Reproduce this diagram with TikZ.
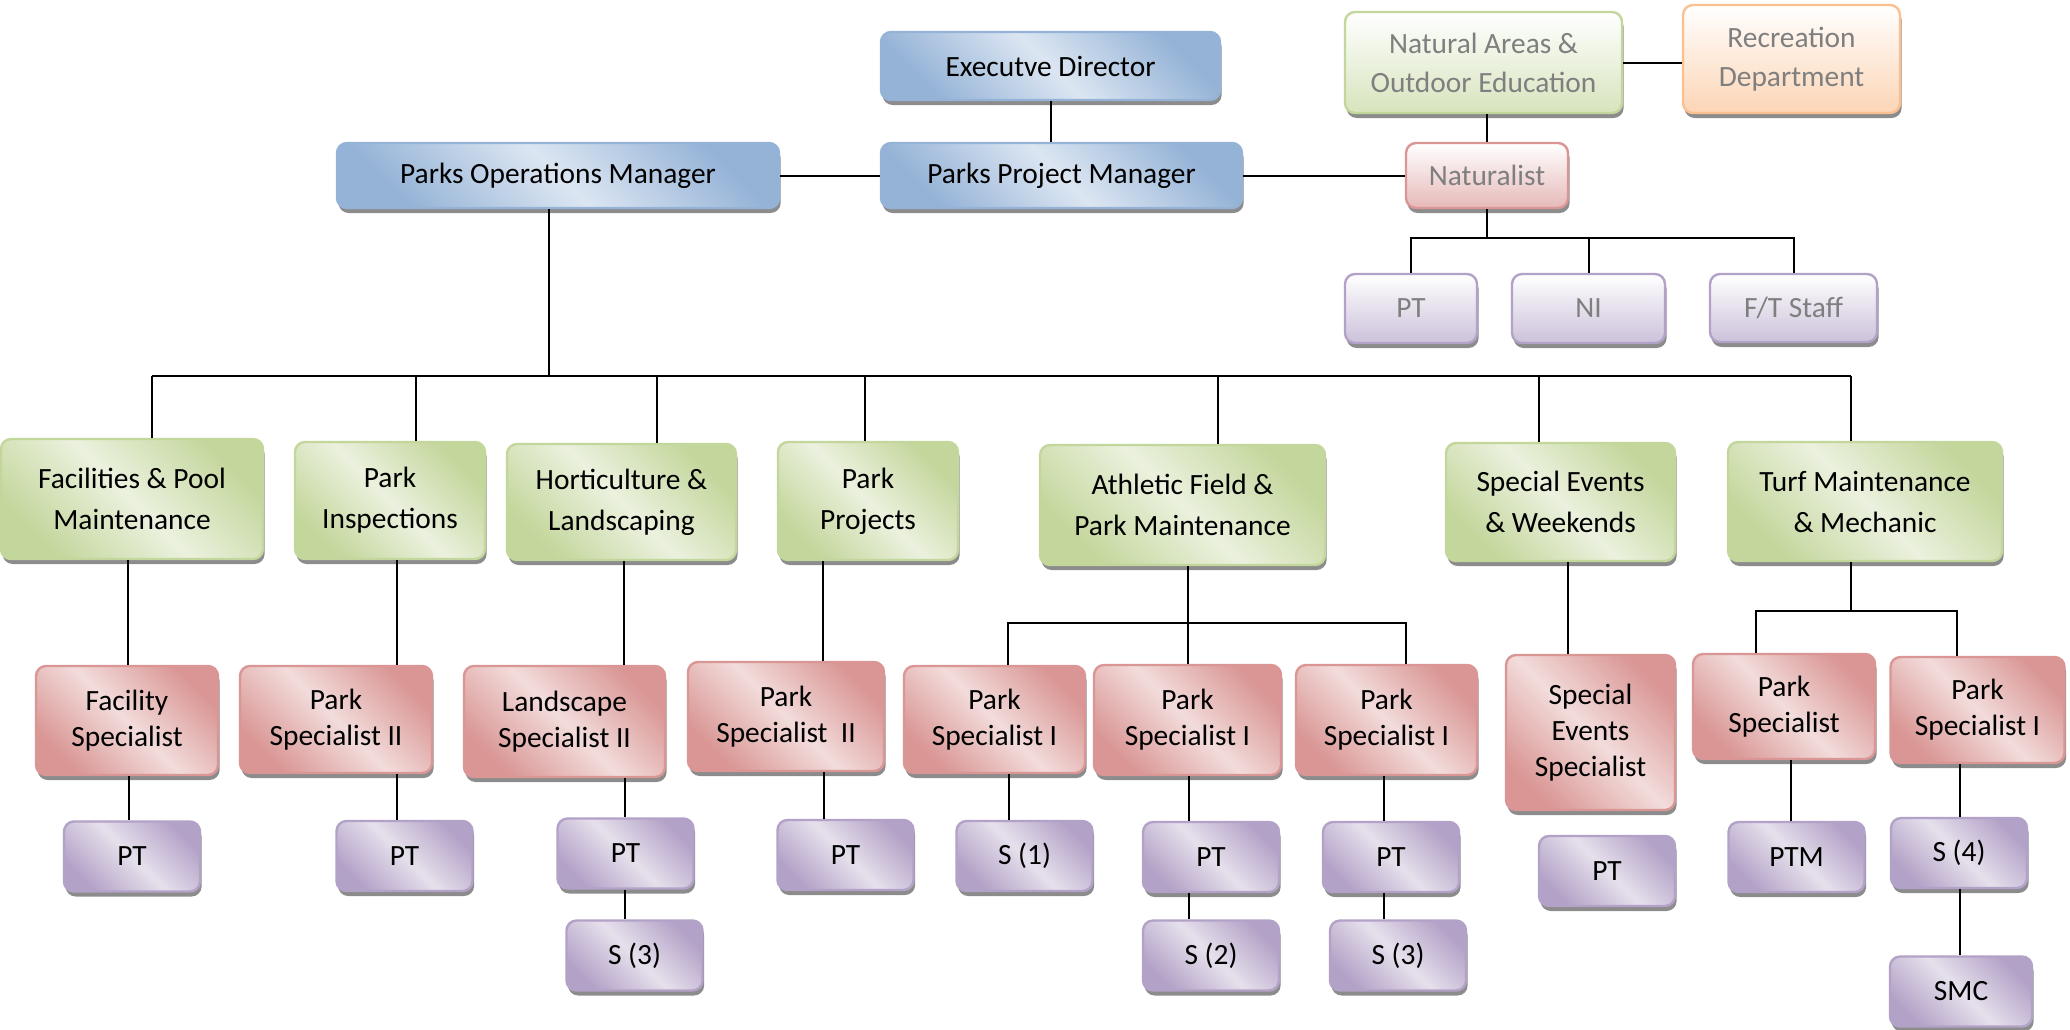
\documentclass[tikz,border=0pt]{standalone}
\usepackage{fontspec}
\setmainfont{Carlito}
\usetikzlibrary{shadows}

\definecolor{mgrdark}{HTML}{95B3D7}
\definecolor{mgrlight}{HTML}{DCE6F2}
\definecolor{unitdark}{HTML}{C3D69B}
\definecolor{unitlight}{HTML}{EBF1DE}
\definecolor{specdark}{HTML}{D99694}
\definecolor{speclight}{HTML}{F2DCDB}
\definecolor{staffdark}{HTML}{B3A2C7}
\definecolor{stafflight}{HTML}{E6E0EC}
\definecolor{recline}{HTML}{FAC090}
\definecolor{recfill}{HTML}{FCD5B5}
\definecolor{natfill}{HTML}{D7E4BD}
\definecolor{nstfill}{HTML}{E6B9B8}
\definecolor{nsffill}{HTML}{CCC1DA}
\definecolor{greytext}{HTML}{7F7F7F}

\begin{document}
\begin{tikzpicture}[x=0.5pt,y=-0.5pt,
  box/.style={rectangle,rounded corners=5pt,draw,line width=1.2pt,align=center,inner sep=1pt,font=\fontsize{14.7}{18}\selectfont,drop shadow={shadow xshift=0.8pt,shadow yshift=-2.5pt,fill=black!45,opacity=1}},
  diag/.style 2 args={box,draw=#1,top color=#1,bottom color=#1,middle color=#2,shading angle=-45},
  mgrbox/.style={diag={mgrdark}{mgrlight}},
  unitbox/.style={diag={unitdark}{unitlight},font=\fontsize{14.7}{20.5}\selectfont},
  specbox/.style={diag={specdark}{speclight}},
  staffbox/.style={diag={staffdark}{stafflight},minimum width=68pt,minimum height=35pt},
  partbox/.style 2 args={box,draw=#1,top color=white,bottom color=#2,text=greytext},
  link/.style={line width=1pt}]
\useasboundingbox (0,0) rectangle (2070,1029);

% top management
\node[mgrbox,minimum width=169.5pt,minimum height=34pt] (ED) at (1050.5,66) {Executve Director};
\node[mgrbox,minimum width=221pt,minimum height=32.5pt] (POM) at (558,175.5) {Parks Operations Manager};
\node[mgrbox,minimum width=180.5pt,minimum height=32.5pt] (PPM) at (1061.5,175.5) {Parks Project Manager};

% natural areas partners
\node[partbox={unitdark}{natfill},minimum width=138.5pt,minimum height=50.5pt,font=\fontsize{14.7}{19.5}\selectfont] (NatAreas) at (1483.5,62.5) {Natural Areas \&\\Outdoor Education};
\node[partbox={recline}{recfill},minimum width=108.5pt,minimum height=54pt,font=\fontsize{14.7}{19.5}\selectfont] (Rec) at (1791.5,59) {Recreation\\Department};
\node[partbox={specdark}{nstfill},minimum width=81pt,minimum height=32.5pt] (Naturalist) at (1487,175.5) {Naturalist};
\node[partbox={staffdark}{nsffill},minimum width=66pt,minimum height=34.5pt] (NPT) at (1411,308.5) {PT};
\node[partbox={staffdark}{nsffill},minimum width=76.5pt,minimum height=34.5pt] (NI) at (1588.5,308.5) {NI};
\node[partbox={staffdark}{nsffill},minimum width=83.5pt,minimum height=34pt] (FT) at (1793.5,308) {F/T Staff};

% work units
\node[unitbox,minimum width=131pt,minimum height=60pt] (Fac) at (132,499) {Facilities \& Pool\\Maintenance};
\node[unitbox,minimum width=95pt,minimum height=58.5pt] (Insp) at (390,500.5) {Park\\Inspections};
\node[unitbox,minimum width=114.5pt,minimum height=58pt] (Hort) at (621.5,502) {Horticulture \&\\Landscaping};
\node[unitbox,minimum width=90pt,minimum height=59pt] (Proj) at (868,501) {Park\\Projects};
\node[unitbox,minimum width=142.5pt,minimum height=60pt] (Ath) at (1182.5,505) {Athletic Field \&\\Park Maintenance};
\node[unitbox,minimum width=114.5pt,minimum height=59pt] (SEW) at (1560.5,502) {Special Events\\\& Weekends};
\node[unitbox,minimum width=137pt,minimum height=59.5pt] (Turf) at (1865,501.5) {Turf Maintenance\\\& Mechanic};

% specialists
\node[specbox,minimum width=91pt,minimum height=54.5pt] (FacS) at (127,720.5) {Facility\\Specialist};
\node[specbox,minimum width=96pt,minimum height=53.5pt] (PS2a) at (336,719.5) {Park\\Specialist II};
\node[specbox,minimum width=100.5pt,minimum height=55.5pt] (LS2) at (564.5,721.5) {Landscape\\Specialist II};
\node[specbox,minimum width=98pt,minimum height=54.5pt] (PS2b) at (786,716.5) {Park\\Specialist\ \ II};
\node[specbox,minimum width=90.5pt,minimum height=53.5pt] (PS1a) at (994.5,719.5) {Park\\Specialist I};
\node[specbox,minimum width=93.5pt,minimum height=55pt] (PS1b) at (1187.5,720) {Park\\Specialist I};
\node[specbox,minimum width=90.5pt,minimum height=55pt] (PS1c) at (1386.5,720) {Park\\Specialist I};
\node[specbox,minimum width=84.5pt,minimum height=77.5pt] (SES) at (1590.5,732.5) {Special\\Events\\Specialist};
\node[specbox,minimum width=91pt,minimum height=52.5pt] (PSt) at (1784,706.5) {Park\\Specialist};
\node[specbox,minimum width=87pt,minimum height=53pt] (PS1d) at (1977.5,710) {Park\\Specialist I};

% staff
\node[staffbox] (PT1) at (132,856.5) {PT};
\node[staffbox] (PT2) at (404.5,856) {PT};
\node[staffbox] (PT3) at (625.5,853.5) {PT};
\node[staffbox] (S3a) at (634.5,955.5) {S (3)};
\node[staffbox] (PT4) at (845.5,855) {PT};
\node[staffbox] (S1) at (1024.5,856) {S (1)};
\node[staffbox] (PT5) at (1211,857) {PT};
\node[staffbox] (S2) at (1211,955.5) {S (2)};
\node[staffbox] (PT6) at (1391,857) {PT};
\node[staffbox] (S3b) at (1398,955.5) {S (3)};
\node[staffbox] (PT7) at (1607,871) {PT};
\node[staffbox] (PTM) at (1796.5,857) {PTM};
\node[staffbox] (S4) at (1959,853) {S (4)};
\node[staffbox,minimum width=71pt] (SMC) at (1961,991.5) {SMC};

% management links
\draw[link] (ED.south) -- (ED.south |- PPM.north);
\draw[link] (POM.east) -- (PPM.west);
\draw[link] (PPM.east) -- (Naturalist.west);
\draw[link] (NatAreas.east) -- (NatAreas.east -| Rec.west);
\draw[link] (Naturalist.north) -- (Naturalist.north |- NatAreas.south);

% naturalist staff
\coordinate (nbus) at (1487,238);
\draw[link] (Naturalist.south) -- (nbus);
\draw[link] (NPT.north) -- (NPT.north |- nbus) -- (FT.north |- nbus) -- (FT.north);
\draw[link] (NI.north) -- (NI.north |- nbus);

% operations bus
\coordinate (bus) at (549,376);
\draw[link] (POM.south -| bus) -- (bus);
\draw[link] (152,376) -- (1851,376);
\foreach \n/\x in {Fac/152,Insp/416,Hort/657,Proj/865,Ath/1218,SEW/1539,Turf/1851}
  \draw[link] (\x,376) -- (\n.north -| \x,0);

% unit to specialist, specialist to staff
\foreach \a/\b/\x in {Fac/FacS/128,Insp/PS2a/397,Hort/LS2/624,Proj/PS2b/823,Ath/PS1b/1188,SEW/SES/1568,
    FacS/PT1/129,PS2a/PT2/397,LS2/PT3/625,PT3/S3a/625,PS2b/PT4/824,PS1a/S1/1009,PS1b/PT5/1189,PT5/S2/1189,
    PS1c/PT6/1384,PT6/S3b/1384,PSt/PTM/1791,PS1d/S4/1960,S4/SMC/1960}
  \draw[link] (\a.south -| \x,0) -- (\b.north -| \x,0);

% athletic field split
\draw[link] (PS1a.north -| 1008,0) -- (1008,623) -- (1406,623) -- (PS1c.north -| 1406,0);
% turf split
\draw[link] (Turf.south -| 1851,0) -- (1851,611);
\draw[link] (PSt.north -| 1756,0) -- (1756,611) -- (1957,611) -- (PS1d.north -| 1957,0);
\end{tikzpicture}
\end{document}
